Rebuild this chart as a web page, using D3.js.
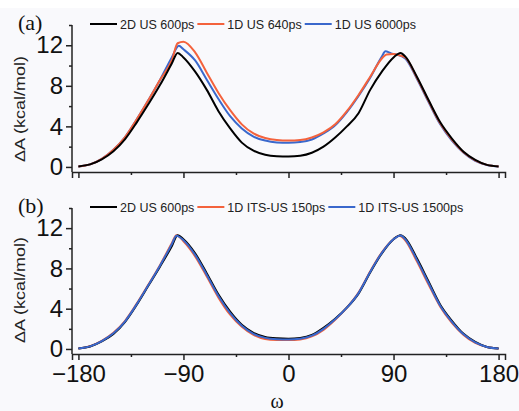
<!DOCTYPE html>
<meta charset="utf-8">
<style>
    body { margin: 0; background: #fff; }
    svg { display: block; }
</style>
<svg width="519" height="411"></svg>
<script src="https://cdn.jsdelivr.net/npm/d3@7"></script>
<script>
    // omega, dA pairs
    const topBlack = [[-180,0.05],[-170,0.25],[-160,0.75],[-150,1.55],[-140,2.75],[-130,4.4],[-120,6.2],[-110,8.1],[-100,10.2],[-95,11.25],[-90,10.8],[-80,9.4],[-70,7.6],[-60,5.5],[-50,3.8],[-40,2.4],[-30,1.6],[-20,1.2],[-10,1.05],[0,1.02],[10,1.1],[20,1.4],[30,2.0],[40,2.9],[50,4.0],[60,5.3],[70,7.6],[80,9.4],[90,10.8],[96,11.25],[100,10.9],[110,8.9],[120,6.6],[130,4.4],[140,2.8],[150,1.5],[160,0.7],[170,0.2],[180,0.05]]
    const topRed = [[-180,0.05],[-170,0.25],[-160,0.8],[-150,1.7],[-140,2.95],[-130,4.7],[-120,6.6],[-110,8.6],[-100,10.5],[-95,12.2],[-90,12.35],[-80,11.3],[-70,9.3],[-60,7.3],[-50,5.6],[-40,4.2],[-30,3.3],[-20,2.85],[-10,2.65],[0,2.6],[10,2.65],[20,2.9],[30,3.4],[40,4.2],[50,5.5],[60,7.1],[70,8.9],[80,10.7],[84,11.1],[90,11.15],[95,11.0],[100,10.8],[110,8.8],[120,6.5],[130,4.3],[140,2.7],[150,1.45],[160,0.65],[170,0.2],[180,0.05]]
    const topBlue = [[-180,0.05],[-170,0.25],[-160,0.8],[-150,1.7],[-140,2.95],[-130,4.7],[-120,6.6],[-110,8.6],[-100,10.8],[-94,11.95],[-90,11.6],[-80,10.5],[-70,8.6],[-60,6.7],[-50,5.0],[-40,3.8],[-30,3.0],[-20,2.6],[-10,2.42],[0,2.38],[10,2.45],[20,2.7],[30,3.3],[40,4.1],[50,5.4],[60,7.0],[70,8.8],[80,10.9],[83,11.4],[88,11.2],[92,11.1],[100,10.7],[110,8.7],[120,6.4],[130,4.2],[140,2.6],[150,1.4],[160,0.6],[170,0.2],[180,0.05]]

    const botBlack = [[-180,0.05],[-170,0.25],[-160,0.75],[-150,1.5],[-140,2.7],[-130,4.4],[-120,6.3],[-110,8.2],[-100,10.2],[-95,11.3],[-90,10.9],[-80,9.5],[-70,7.5],[-60,5.4],[-50,3.7],[-40,2.4],[-30,1.6],[-20,1.2],[-10,1.06],[0,1.02],[10,1.1],[20,1.4],[30,2.1],[40,3.0],[50,4.1],[60,5.5],[70,7.6],[80,9.5],[90,10.9],[96,11.3],[100,11.0],[110,9.0],[120,6.7],[130,4.4],[140,2.8],[150,1.5],[160,0.7],[170,0.2],[180,0.05]]
    const botRed = [[-180,0.05],[-170,0.27],[-160,0.8],[-150,1.6],[-140,2.8],[-130,4.5],[-120,6.4],[-110,8.35],[-100,10.5],[-96,11.3],[-90,10.7],[-80,9.2],[-70,7.2],[-60,5.1],[-50,3.4],[-40,2.2],[-30,1.4],[-20,1.0],[-10,0.9],[0,0.88],[10,0.95],[20,1.25],[30,1.9],[40,2.9],[50,4.1],[60,5.6],[70,7.7],[80,9.6],[90,10.9],[95,11.25],[100,10.8],[110,8.7],[120,6.4],[130,4.2],[140,2.6],[150,1.4],[160,0.6],[170,0.2],[180,0.05]]
    const botBlue = [[-180,0.05],[-170,0.26],[-160,0.78],[-150,1.55],[-140,2.75],[-130,4.45],[-120,6.35],[-110,8.3],[-100,10.4],[-96,11.25],[-90,10.8],[-80,9.35],[-70,7.35],[-60,5.25],[-50,3.55],[-40,2.3],[-30,1.5],[-20,1.1],[-10,0.97],[0,0.95],[10,1.02],[20,1.32],[30,2.0],[40,2.95],[50,4.1],[60,5.55],[70,7.65],[80,9.55],[90,10.9],[96,11.28],[100,10.9],[110,8.85],[120,6.55],[130,4.3],[140,2.7],[150,1.45],[160,0.65],[170,0.2],[180,0.05]]

    const topNames = ["2D US 600ps", "1D US 640ps", "1D US 6000ps"]
    const botNames = ["2D US 600ps", "1D ITS-US 150ps", "1D ITS-US 1500ps"]
    const xTicks = [-180, -90, 0, 90, 180]
    const xMinor = [-135, -45, 45, 135]
    const yTicks = [0, 4, 8, 12]
    const yMinor = [2, 6, 10, 14]

    const black = "#000", red = "#f4623c", blue = "#3a68cc"
    const legendColors = [black, red, blue]

    const svg = d3.select("svg")
    svg.append("rect").attr("x", 0).attr("y", 8).attr("width", 519).attr("height", 403).attr("fill", "#f9f9fc")

    const x = d3.scaleLinear().domain([-185.5, 185.5]).range([72, 505])

    function panel(opt) {
        const y = d3.scaleLinear().domain([-0.5, 14]).range([opt.bottom, opt.top])
        const g = svg.append("g")

        // curves, drawn in the stacking order of the original
        const line = d3.line().x(d => x(d[0])).y(d => y(d[1])).curve(d3.curveMonotoneX)
        opt.series.forEach(s => {
            g.append("path").datum(s.data)
                .attr("fill", "none").attr("stroke", s.color)
                .attr("stroke-width", 2).attr("stroke-linejoin", "round")
                .attr("d", line)
        })

        // y axis
        const ya = g.append("g").attr("transform", `translate(${x.range()[0]},0)`)
            .call(d3.axisLeft(y).tickValues(yTicks).tickSize(6).tickPadding(3).tickFormat(d3.format("d")))
        ya.select(".domain").attr("d", `M0,${opt.top}V${opt.bottom}`)
        g.append("g").attr("transform", `translate(${x.range()[0]},0)`)
            .call(d3.axisLeft(y).tickValues(yMinor).tickSize(3).tickFormat(""))
            .select(".domain").remove()

        // x axis
        g.append("g").attr("transform", `translate(0,${opt.bottom})`)
            .call(d3.axisBottom(x).tickValues(xTicks).tickSize(6).tickPadding(5)
                .tickFormat(opt.xlabels ? d3.format("d") : ""))
        g.append("g").attr("transform", `translate(0,${opt.bottom})`)
            .call(d3.axisBottom(x).tickValues(xMinor).tickSize(3).tickFormat(""))
            .select(".domain").remove()

        g.selectAll(".domain, .tick line").attr("stroke", "#222").attr("stroke-width", 1.5)
        g.selectAll(".tick text").attr("font-family", "Liberation Sans, Arial, sans-serif")
            .attr("font-size", 24).attr("fill", "#111")

        // y label
        g.append("text")
            .attr("transform", `translate(25,${opt.labelY}) rotate(-90)`)
            .attr("text-anchor", "middle")
            .attr("font-family", "Liberation Sans, Arial, sans-serif")
            .attr("font-size", 15).attr("fill", "#222")
            .attr("textLength", 106).attr("lengthAdjust", "spacingAndGlyphs")
            .text("ΔA (kcal/mol)")

        // panel tag
        g.append("text").attr("x", 18).attr("y", opt.tagY)
            .attr("font-family", "Liberation Serif, Times New Roman, serif")
            .attr("font-size", 22).attr("fill", "#111")
            .text(opt.tag)

        // legend
        let lx = 90
        opt.names.forEach((name, i) => {
            g.append("line").attr("x1", lx).attr("x2", lx + 27)
                .attr("y1", opt.legendY).attr("y2", opt.legendY)
                .attr("stroke", legendColors[i]).attr("stroke-width", 2)
            const t = g.append("text").attr("x", lx + 30).attr("y", opt.legendY + 4.5)
                .attr("font-family", "Liberation Sans, Arial, sans-serif")
                .attr("font-size", 12.5).attr("fill", "#222")
                .text(name)
            lx += 30 + t.node().getComputedTextLength() + 3
        })
    }

    panel({
        top: 25, bottom: 172, labelY: 109, tagY: 30, legendY: 24, tag: "(a)",
        names: topNames, xlabels: false,
        series: [
            { data: topBlue, color: blue },
            { data: topRed, color: red },
            { data: topBlack, color: black }
        ]
    })

    panel({
        top: 208, bottom: 354, labelY: 290, tagY: 213, legendY: 207, tag: "(b)",
        names: botNames, xlabels: true,
        series: [
            { data: botRed, color: red },
            { data: botBlack, color: black },
            { data: botBlue, color: blue }
        ]
    })

    svg.append("text").attr("x", 277).attr("y", 408)
        .attr("text-anchor", "middle")
        .attr("font-family", "Liberation Serif, Times New Roman, serif")
        .attr("font-size", 20).attr("fill", "#111")
        .text("ω")
</script>
